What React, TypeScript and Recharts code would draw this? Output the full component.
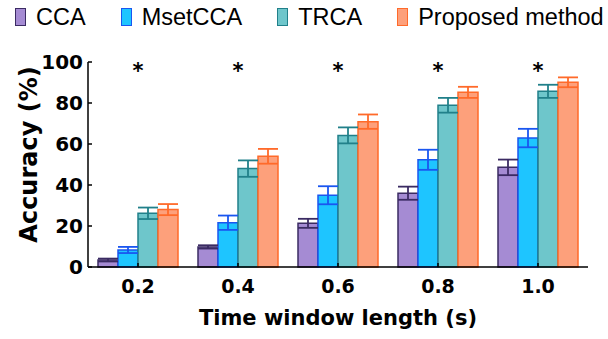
import React from "react";
import { ComposedChart, Bar, Line, XAxis, YAxis, ErrorBar } from "recharts";

// Time window lengths (s)
const windows = ["0.2", "0.4", "0.6", "0.8", "1.0"];

// mean accuracy (%) per method
const cca = [3.4, 9.8, 21.3, 36.0, 48.6];
const msetcca = [8.3, 21.6, 35.0, 52.3, 62.9];
const trca = [26.2, 48.0, 64.2, 78.9, 85.7];
const proposed = [28.0, 54.0, 70.9, 85.2, 90.1];

// standard errors
const ccaErr = [0.7, 0.8, 2.2, 3.2, 3.8];
const msetccaErr = [1.5, 3.5, 4.4, 4.9, 4.5];
const trcaErr = [2.8, 4.0, 3.9, 3.6, 3.2];
const proposedErr = [2.7, 3.6, 3.5, 2.7, 2.4];

// significance marker height (%)
const sigLevel = [98, 98, 98, 98, 98];

const yTicks = [0, 20, 40, 60, 80, 100];

const series = [
    { key: "cca", err: "ccaErr", name: "CCA", fill: "#a58bd3", stroke: "#3b2b63" },
    { key: "msetcca", err: "msetccaErr", name: "MsetCCA", fill: "#1ec5ff", stroke: "#1a56f0" },
    { key: "trca", err: "trcaErr", name: "TRCA", fill: "#6ec6cb", stroke: "#21808a" },
    { key: "proposed", err: "proposedErr", name: "Proposed method", fill: "#fda07b", stroke: "#ff6a2a" },
];

const data = windows.map((w, i) => ({
    label: w,
    cca: cca[i],
    msetcca: msetcca[i],
    trca: trca[i],
    proposed: proposed[i],
    ccaErr: ccaErr[i],
    msetccaErr: msetccaErr[i],
    trcaErr: trcaErr[i],
    proposedErr: proposedErr[i],
    sig: sigLevel[i],
}));

const BOLD = "'DejaVu Sans', sans-serif";
const REG = "'Liberation Sans', Arial, sans-serif";

const Star = (props: any) => {
    const { cx, cy, index } = props;
    return (
        <text key={`star-${index}`} x={cx} y={cy + 12} textAnchor="middle"
            fontFamily={BOLD} fontWeight="bold" fontSize={21} fill="#000">*</text>
    );
};

const XLabel = (props: any) => {
    const vb = props.viewBox;
    return (
        <text x={vb.x + vb.width / 2} y={vb.y + 58} textAnchor="middle"
            fontFamily={BOLD} fontWeight="bold" fontSize={21} fill="#000">
            Time window length (s)
        </text>
    );
};

const YLabel = (props: any) => {
    const vb = props.viewBox;
    const x = vb.x + 28;
    const y = vb.y + vb.height / 2 - 10;
    return (
        <text x={x} y={y} dy="0.36em" textAnchor="middle" transform={`rotate(-90 ${x} ${y})`}
            fontFamily={BOLD} fontWeight="bold" fontSize={24} fill="#000">
            Accuracy (%)
        </text>
    );
};

export default function App() {
    return (
        <div style={{ position: "fixed", left: 0, top: 0, width: 608, height: 339, background: "#fff" }}>
            {/* Legend */}
            <div style={{ position: "absolute", left: 15, top: 0, display: "flex", alignItems: "center", height: 34, gap: 35, fontFamily: REG, fontSize: 23.5, color: "#000" }}>
                {series.map(s => (
                    <div key={s.key} style={{ display: "flex", alignItems: "center" }}>
                        <span style={{ display: "inline-block", width: 9, height: 16, background: s.fill, border: `1.5px solid ${s.stroke}`, marginRight: 10 }} />
                        <span>{s.name}</span>
                    </div>
                ))}
            </div>

            <ComposedChart width={608} height={339} data={data}
                margin={{ top: 62, right: 20, bottom: 0, left: 0 }}
                barGap={0}>
                <XAxis dataKey="label" height={72} axisLine={{ stroke: "#000", strokeWidth: 1.5 }}
                    tickLine={{ stroke: "#000", strokeWidth: 1.5 }} tickSize={-4} tickMargin={17}
                    tick={{ fill: "#000", fontSize: 19, fontWeight: "bold", fontFamily: BOLD }}
                    label={<XLabel />} />
                <YAxis domain={[0, 100]} ticks={yTicks} width={88} interval={0}
                    axisLine={{ stroke: "#000", strokeWidth: 1.5 }}
                    tickLine={{ stroke: "#000", strokeWidth: 1.5 }} tickSize={-4} tickMargin={9}
                    tick={{ fill: "#000", fontSize: 20, fontWeight: "bold", fontFamily: BOLD }}
                    label={<YLabel />} />
                {series.map(s => (
                    <Bar key={s.key} dataKey={s.key} barSize={20} fill={s.fill} stroke={s.stroke}
                        strokeWidth={1.5} isAnimationActive={false}>
                        <ErrorBar dataKey={s.err} width={10} stroke={s.stroke} strokeWidth={1.8} direction="y" />
                    </Bar>
                ))}
                <Line dataKey="sig" stroke="none" dot={Star} activeDot={false} isAnimationActive={false} />
            </ComposedChart>
        </div>
    );
}
